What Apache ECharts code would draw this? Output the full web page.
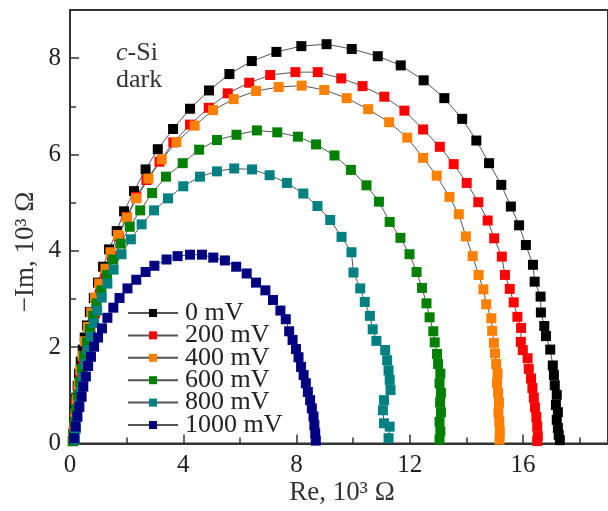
<!DOCTYPE html>
<html>
<head>
    <meta charset="utf-8">
    <script src="https://cdn.jsdelivr.net/npm/echarts@6/dist/echarts.min.js"></script>
</head>
<body style="margin:0">
    <div id="main" style="width: 608px;height:511px;"></div>
    <script type="text/javascript">
        // Nyquist plot, c-Si dark, points read as [Re, -Im] in 10^3 Ohm
        var names = ['0 mV', '200 mV', '400 mV', '600 mV', '800 mV', '1000 mV'];
        var colors = ['#000000', '#ff0000', '#ff8000', '#008000', '#008080', '#000080'];
        var xTicks = [0, 4, 8, 12, 16];
        var xMinor = [2, 6, 10, 14, 18];
        var yTicks = [0, 2, 4, 6, 8];
        var yMinor = [1, 3, 5, 7];

        var v0 = [[0.10,0.05],[0.12,0.20],[0.15,0.45],[0.18,0.70],[0.22,0.95],[0.27,1.20],[0.32,1.45],[0.38,1.70],[0.45,1.95],[0.52,2.20],[0.60,2.45],[0.70,2.73],[0.84,3.02],[0.99,3.34],[1.17,3.67],[1.38,4.03],[1.65,4.41],[1.91,4.82],[2.26,5.24],[2.67,5.69],[3.10,6.11],[3.64,6.53],[4.24,6.95],[4.91,7.33],[5.63,7.67],[6.42,7.94],[7.29,8.13],[8.17,8.25],[9.06,8.29],[9.95,8.19],[10.87,8.04],[11.68,7.85],[12.49,7.54],[13.22,7.17],[13.85,6.74],[14.35,6.29],[14.80,5.82],[15.23,5.37],[15.57,4.92],[15.86,4.53],[16.10,4.12],[16.35,3.71],[16.41,3.36],[16.62,3.05],[16.63,2.72],[16.75,2.44],[16.81,2.23],[16.96,1.95],[17.05,1.62],[17.09,1.42],[17.12,1.21],[17.19,1.01],[17.16,0.80],[17.23,0.65],[17.19,0.49],[17.23,0.32],[17.26,0.18],[17.30,0.07]];
        var v200 = [[0.10,0.05],[0.13,0.25],[0.17,0.50],[0.22,0.80],[0.30,1.10],[0.38,1.40],[0.48,1.70],[0.60,2.00],[0.72,2.35],[0.88,2.70],[1.05,3.10],[1.25,3.50],[1.48,3.90],[1.72,4.30],[2.00,4.70],[2.34,5.12],[2.70,5.47],[3.16,5.85],[3.65,6.25],[4.24,6.62],[4.90,6.97],[5.57,7.27],[6.33,7.49],[7.07,7.65],[7.96,7.71],[8.75,7.71],[9.58,7.58],[10.33,7.42],[11.10,7.20],[11.81,6.91],[12.47,6.52],[13.06,6.16],[13.55,5.80],[14.01,5.41],[14.42,5.01],[14.75,4.63],[14.98,4.26],[15.25,3.88],[15.36,3.50],[15.53,3.21],[15.67,2.93],[15.80,2.63],[15.93,2.40],[15.92,2.11],[15.99,1.94],[16.16,1.77],[16.20,1.55],[16.28,1.35],[16.33,1.15],[16.38,0.95],[16.42,0.75],[16.47,0.55],[16.50,0.35],[16.52,0.15],[16.50,0.05]];
        var v400 = [[0.12,0.10],[0.15,0.35],[0.19,0.62],[0.24,0.92],[0.30,1.22],[0.36,1.52],[0.44,1.82],[0.53,2.12],[0.63,2.42],[0.75,2.72],[0.88,3.03],[1.03,3.32],[1.25,3.63],[1.43,3.97],[1.69,4.33],[2.01,4.69],[2.34,5.09],[2.77,5.50],[3.24,5.90],[3.76,6.26],[4.40,6.60],[5.05,6.92],[5.78,7.15],[6.57,7.32],[7.37,7.40],[8.18,7.43],[8.98,7.34],[9.77,7.17],[10.53,6.94],[11.27,6.67],[11.91,6.35],[12.47,5.93],[12.95,5.56],[13.40,5.12],[13.73,4.76],[13.98,4.30],[14.22,3.89],[14.43,3.50],[14.60,3.20],[14.70,2.89],[14.88,2.60],[14.91,2.34],[14.97,2.09],[15.01,1.87],[15.05,1.65],[15.10,1.45],[15.08,1.25],[15.12,1.05],[15.15,0.85],[15.13,0.65],[15.16,0.45],[15.18,0.25],[15.17,0.08]];
        var v600 = [[0.11,0.05],[0.13,0.20],[0.17,0.45],[0.22,0.72],[0.28,1.00],[0.35,1.28],[0.42,1.55],[0.50,1.82],[0.60,2.10],[0.70,2.38],[0.82,2.65],[0.94,2.91],[1.11,3.18],[1.31,3.50],[1.52,3.82],[1.79,4.15],[2.11,4.50],[2.48,4.84],[2.90,5.20],[3.39,5.54],[3.98,5.82],[4.56,6.10],[5.19,6.30],[5.88,6.41],[6.60,6.50],[7.32,6.46],[8.05,6.37],[8.69,6.21],[9.34,5.98],[9.92,5.68],[10.47,5.36],[10.91,5.02],[11.29,4.60],[11.67,4.27],[11.99,3.93],[12.24,3.56],[12.43,3.23],[12.59,2.91],[12.70,2.62],[12.83,2.33],[12.88,2.10],[12.96,1.86],[13.00,1.65],[13.08,1.45],[13.05,1.25],[13.10,1.05],[13.07,0.85],[13.10,0.65],[13.05,0.45],[13.08,0.25],[13.05,0.08]];
        var v800 = [[0.17,0.08],[0.20,0.30],[0.25,0.55],[0.31,0.82],[0.38,1.10],[0.46,1.38],[0.54,1.66],[0.63,1.94],[0.74,2.22],[0.85,2.50],[0.96,2.76],[1.12,3.03],[1.32,3.32],[1.54,3.61],[1.82,3.93],[2.15,4.24],[2.53,4.55],[2.97,4.84],[3.46,5.09],[4.00,5.34],[4.59,5.54],[5.19,5.65],[5.80,5.71],[6.43,5.69],[7.05,5.57],[7.66,5.41],[8.24,5.19],[8.74,4.93],[9.19,4.64],[9.59,4.29],[9.94,3.97],[10.01,3.55],[10.25,3.22],[10.41,2.94],[10.59,2.65],[10.69,2.37],[10.82,2.13],[11.13,1.94],[11.20,1.73],[11.25,1.52],[11.29,1.32],[11.32,1.11],[11.09,0.90],[11.05,0.69],[11.09,0.42],[11.29,0.35],[11.25,0.11]];
        var v1000 = [[0.15,0.11],[0.20,0.35],[0.26,0.56],[0.33,0.76],[0.41,0.97],[0.47,1.18],[0.56,1.39],[0.64,1.61],[0.74,1.80],[0.85,2.01],[0.99,2.20],[1.13,2.39],[1.32,2.61],[1.53,2.82],[1.75,3.02],[2.03,3.22],[2.34,3.40],[2.67,3.56],[2.98,3.69],[3.41,3.82],[3.80,3.89],[4.24,3.92],[4.66,3.92],[5.06,3.86],[5.47,3.80],[5.87,3.67],[6.24,3.53],[6.57,3.34],[6.90,3.18],[7.17,2.98],[7.43,2.76],[7.62,2.58],[7.74,2.33],[7.86,2.15],[7.98,1.96],[8.07,1.79],[8.16,1.59],[8.25,1.42],[8.33,1.25],[8.40,1.07],[8.48,0.90],[8.54,0.73],[8.60,0.56],[8.63,0.38],[8.66,0.21],[8.68,0.06]];
        var allData = [v0, v200, v400, v600, v800, v1000];

        var myChart = echarts.init(document.getElementById('main'));
        var serif = 'Liberation Serif';
        var axisColor = '#333333';

        var series = [];
        for (var i = 0; i < names.length; i++) {
            series.push({
                name: names[i],
                type: 'line',
                data: allData[i],
                symbol: 'rect',
                symbolSize: 10,
                animation: false,
                lineStyle: { color: '#555555', width: 1 },
                itemStyle: { color: colors[i] }
            });
        }

        var option = {
            backgroundColor: '#ffffff',
            grid: {
                left: 70, top: 10, bottom: 67.5, right: -3.5,
                show: true, borderColor: axisColor, borderWidth: 2
            },
            legend: {
                data: names,
                orient: 'vertical',
                left: 122, top: 295,
                itemWidth: 50, itemHeight: 10, itemGap: -3.6,
                textStyle: { fontFamily: serif, fontSize: 26, color: '#222', padding: [0, 0, 0, 2] }
            },
            xAxis: [{
                type: 'value', min: 0, max: 19,
                axisLine: { lineStyle: { color: axisColor, width: 2 } },
                axisTick: { inside: true, length: 9, customValues: xTicks, lineStyle: { color: axisColor, width: 1.5 } },
                axisLabel: { customValues: xTicks, fontFamily: serif, fontSize: 25, color: '#222', margin: 9 },
                splitLine: { show: false }
            }, {
                type: 'value', min: 0, max: 19, position: 'bottom',
                axisLine: { show: false },
                axisTick: { inside: true, length: 6, customValues: xMinor, lineStyle: { color: axisColor, width: 1.5 } },
                axisLabel: { show: false },
                splitLine: { show: false }
            }],
            yAxis: [{
                type: 'value', min: 0, max: 9,
                axisLine: { show: true, lineStyle: { color: axisColor, width: 2 } },
                axisTick: { show: true, inside: true, length: 9, customValues: yTicks, lineStyle: { color: axisColor, width: 1.5 } },
                axisLabel: { customValues: yTicks, fontFamily: serif, fontSize: 25, color: '#222', margin: 9 },
                splitLine: { show: false }
            }, {
                type: 'value', min: 0, max: 9, position: 'left',
                axisLine: { show: false },
                axisTick: { show: true, inside: true, length: 6, customValues: yMinor, lineStyle: { color: axisColor, width: 1.5 } },
                axisLabel: { show: false },
                splitLine: { show: false }
            }],
            graphic: [
                {
                    type: 'text', left: 116, top: 40,
                    style: {
                        text: '{i|c}-Si', fontFamily: serif, fontSize: 26, fill: '#333',
                        rich: { i: { fontStyle: 'italic', fontFamily: serif, fontSize: 26 } }
                    }
                },
                { type: 'text', left: 116, top: 67, style: { text: 'dark', fontFamily: serif, fontSize: 26, fill: '#333' } },
                {
                    type: 'text', x: 342, y: 493,
                    style: { text: 'Re, 10³ Ω', fontFamily: serif, fontSize: 27, fill: '#333', align: 'center', verticalAlign: 'middle' }
                },
                {
                    type: 'text', x: 26, y: 252, rotation: Math.PI / 2,
                    style: { text: '−Im, 10³ Ω', fontFamily: serif, fontSize: 27, fill: '#333', align: 'center', verticalAlign: 'middle' }
                }
            ],
            series: series
        };

        myChart.setOption(option);
    </script>
</body>
</html>
